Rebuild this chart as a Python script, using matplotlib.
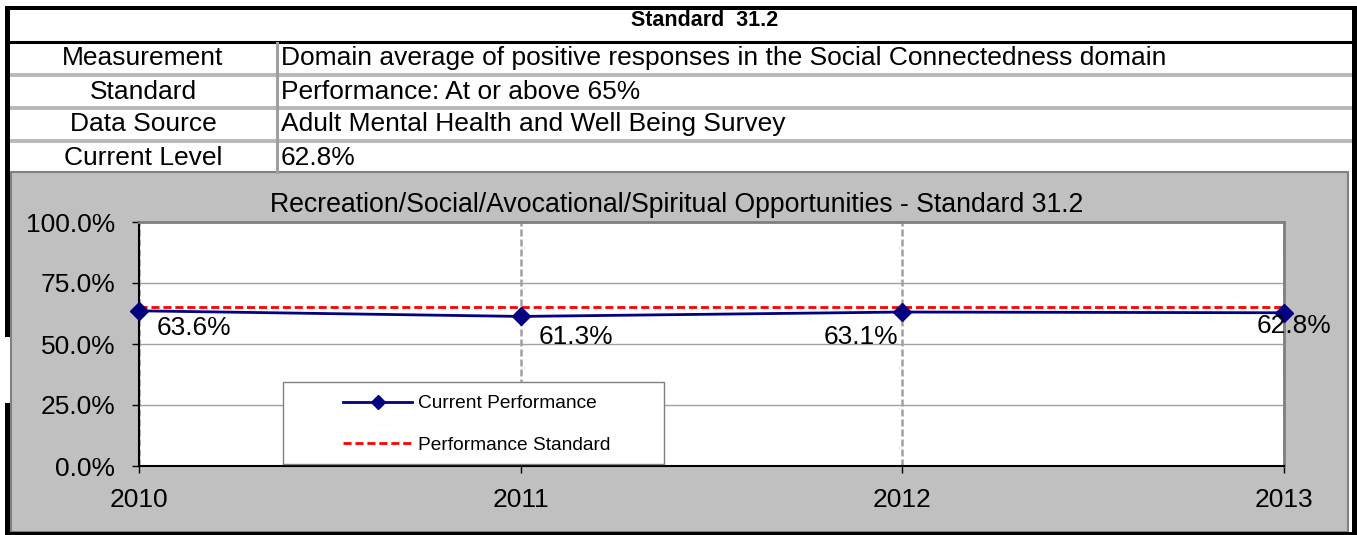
import matplotlib.pyplot as plt
from matplotlib.patches import Rectangle
from matplotlib.lines import Line2D

plt.rcParams['font.family'] = ['Liberation Sans', 'DejaVu Sans']

# data
years = [2010, 2011, 2012, 2013]
current = [63.6, 61.3, 63.1, 62.8]
standard = [65, 65, 65, 65]
point_labels = ['63.6%', '61.3%', '63.1%', '62.8%']
y_ticks = [0, 25, 50, 75, 100]
row_names = ['Measurement', 'Standard', 'Data Source', 'Current Level']
row_values = ['Domain average of positive responses in the Social Connectedness domain',
              'Performance: At or above 65%',
              'Adult Mental Health and Well Being Survey',
              '62.8%']
header = 'Standard  31.2'
chart_title = 'Recreation/Social/Avocational/Spiritual Opportunities - Standard 31.2'

W, H = 1357, 535
fig = plt.figure(figsize=(W / 100, H / 100), dpi=100)


def fx(x):
    return x / W


def fy(y):
    return 1 - y / H


def box(x0, y0, x1, y1, **kw):
    fig.patches.append(Rectangle((fx(x0), fy(y1)), fx(x1) - fx(x0), fy(y0) - fy(y1),
                                 transform=fig.transFigure, figure=fig, **kw))


def line(xs, ys, **kw):
    fig.add_artist(Line2D([fx(x) for x in xs], [fy(y) for y in ys],
                          transform=fig.transFigure, **kw))


# chart background (grey panel)
box(11, 172, 1348, 532, fc='#c0c0c0', ec='#808080', lw=1.5, zorder=-2)

# table lines
line([10, 1352], [41.5, 41.5], color='black', lw=2.2, zorder=-1)
for yy in [75, 107.5, 141]:
    line([10, 1352], [yy, yy], color='#b8b8b8', lw=2.8, zorder=-1)
line([276.5, 276.5], [43, 172], color='#a0a0a0', lw=2.2, zorder=-1)

# outer black frame
box(5, 6, 1357, 10, fc='black', ec='none', zorder=-1)
box(5, 6, 10, 337, fc='black', ec='none', zorder=-1)
box(5, 403, 10, 535, fc='black', ec='none', zorder=-1)
box(1352, 6, 1357, 535, fc='black', ec='none', zorder=-1)
box(5, 532, 1357, 535, fc='black', ec='none', zorder=-1)

# table text
fig.text(fx(705), fy(26), header, ha='center', va='baseline', fontsize=15.5, fontweight='bold')
for name, val, base in zip(row_names, row_values, [65, 99, 131, 165]):
    fig.text(fx(143), fy(base), name, ha='center', va='baseline', fontsize=19)
    fig.text(fx(281), fy(base), val, ha='left', va='baseline', fontsize=19)

# chart
ax = fig.add_axes([fx(139), fy(466), fx(1284) - fx(139), fy(222) - fy(466)])
ax.set_facecolor('white')
ax.set_xlim(2010, 2013)
ax.set_ylim(0, 100)

cur_line, = ax.plot(years, current, color='#000080', lw=2, marker='D', ms=9,
                    clip_on=False, zorder=4, label='Current Performance')
std_line, = ax.plot(years, standard, color='red', lw=2, ls=(0, (2.9, 1.4)),
                    zorder=3, label='Performance Standard')

offsets = [(18, -17, 'left'), (18, -21, 'left'), (-4, -25, 'right'), (-27, -13, 'left')]
for x, y, lbl, (dx, dy, ha) in zip(years, current, point_labels, offsets):
    ax.annotate(lbl, (x, y), xytext=(dx, dy), textcoords='offset pixels',
                ha=ha, va='center', fontsize=19, annotation_clip=False, zorder=5)

ax.set_yticks(y_ticks)
ax.set_yticklabels([f'{v:.1f}%' for v in y_ticks])
ax.set_xticks(years)
ax.set_xticklabels([str(y) for y in years])
ax.yaxis.grid(True, color='#a0a0a0', lw=1)
ax.xaxis.grid(True, color='#a0a0a0', lw=1.8, ls=(0, (2.8, 1.2)))
ax.set_axisbelow(True)

for s in ['left', 'bottom']:
    ax.spines[s].set_color('black')
    ax.spines[s].set_linewidth(1.5)
for s in ['top', 'right']:
    ax.spines[s].set_color('#808080')
    ax.spines[s].set_linewidth(2)

ax.tick_params(axis='both', direction='out', length=5, width=1, color='black', labelsize=19)
ax.tick_params(axis='y', pad=12)
ax.tick_params(axis='x', pad=11)

fig.text(fx(677), fy(211.7), chart_title, ha='center', va='baseline', fontsize=19.2)

# legend
box(283, 382, 664, 464, fc='white', ec='#808080', lw=1, zorder=4)
fig.legend(handles=[cur_line, std_line], loc='upper left',
           bbox_to_anchor=(fx(343), fy(395)), bbox_transform=fig.transFigure,
           frameon=False, fontsize=13.8, handlelength=3.6, handletextpad=0.3,
           labelspacing=1.25, borderpad=0, borderaxespad=0, markerscale=0.8,
           numpoints=1)

fig.savefig('out.png', dpi=100)
